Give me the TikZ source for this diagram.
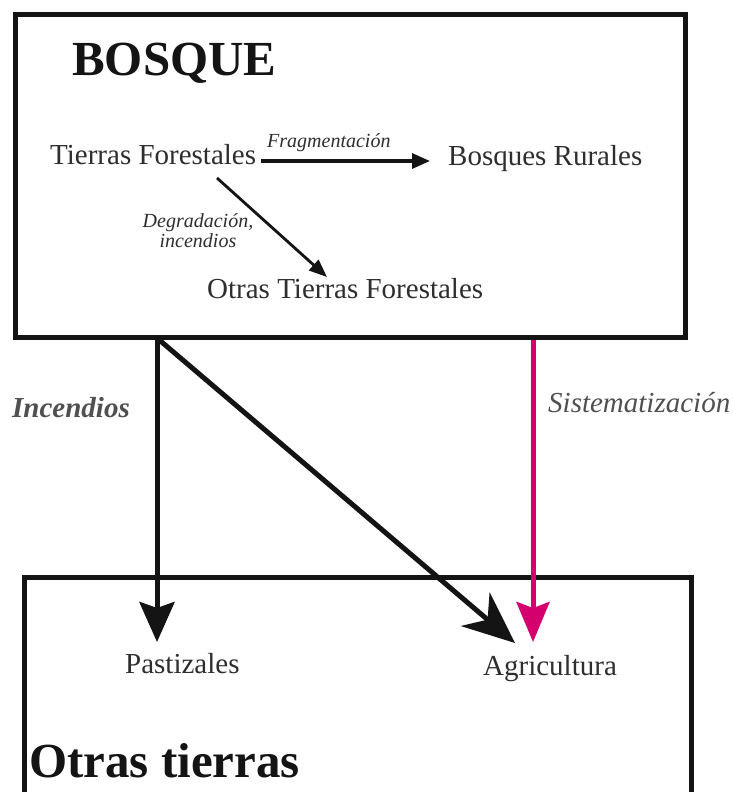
\documentclass[tikz,border=0pt]{standalone}
\usepackage{fontspec}
\setmainfont{Liberation Serif}
\usetikzlibrary{arrows.meta,calc}
\definecolor{txt}{HTML}{2E2E2E}
\definecolor{lbl}{HTML}{505050}
\definecolor{mag}{HTML}{D4006E}
\definecolor{ink}{HTML}{141414}
\tikzset{
  frame/.style={draw=ink, line width=5pt, rectangle, inner sep=0pt, outer sep=0pt, anchor=north west},
  title/.style={anchor=base west, inner sep=0pt, text=ink, font=\fontsize{49}{55}\selectfont\bfseries},
  item/.style={anchor=base west, inner sep=0pt, text=txt, font=\fontsize{29}{33}\selectfont},
  small/.style={inner sep=0pt, text=txt, font=\fontsize{20}{20}\selectfont\itshape},
  side/.style={anchor=base west, inner sep=0pt, text=lbl, font=\fontsize{29}{33}\selectfont\itshape},
  thin/.style={draw=ink, line width=3.2pt, -{Triangle[length=18pt,width=15pt]}},
  bigv/.style={draw=ink, line width=5pt, -{Stealth[length=40pt,width=35pt,inset=6pt]}},
  bigd/.style={draw=ink, line width=5pt, -{Stealth[length=52pt,width=44pt,inset=16pt]}},
  magv/.style={draw=mag, line width=5pt, -{Stealth[length=40pt,width=33pt,inset=6pt]}}
}
\begin{document}
\begin{tikzpicture}[x=1pt,y=-1pt]
\useasboundingbox (0,0) rectangle (733,792);
\clip (0,0) rectangle (733,792);
\fill[white] (0,0) rectangle (733,792);
% boxes
\node[frame, minimum width=670pt, minimum height=322.5pt] (bosque) at (15,14.5) {};
\node[frame, minimum width=667pt, minimum height=230pt] (otras) at (24,577) {};
% texts
\node[title] (tbosque) at (72,75) {BOSQUE};
\node[item] (tf) at (50,164) {Tierras Forestales};
\node[item] (br) at (448,165) {Bosques Rurales};
\node[item] (otf) at (207,298) {Otras Tierras Forestales};
\node[small, anchor=base west] (frag) at (267,147) {Fragmentación};
\node[small, anchor=base, align=center] (degr) at (198,247) {Degradación,\\[-0.5pt]incendios};
\node[side, font=\fontsize{29}{33}\selectfont\bfseries\itshape] (inc) at (12,417) {Incendios};
\node[side] (sist) at (548,412) {Sistematización};
\node[item] (past) at (125,673) {Pastizales};
\node[item] (agri) at (483,675) {Agricultura};
\node[title] (totras) at (29,777) {Otras tierras};
% inner connectors
\draw[thin] ($(tf.base east)+(5,-3)$) -- ($(br.base west)+(-18,-4)$);
\draw[thin, line width=2.8pt, -{Triangle[length=18pt,width=14pt]}] ($(tf.base west)+(167,14)$) -- ($(otf.base west)+(120,-21)$);
% outer connectors
\draw[bigv] ($(bosque.south west)+(142,0)$) -- ($(otras.north west)+(133,65)$);
\draw[bigd] ($(bosque.south west)+(142,1)$) -- ($(otras.north west)+(491,66)$);
\draw[magv] ($(bosque.south west)+(518,3)$) -- ($(otras.north west)+(509,65)$);
\end{tikzpicture}
\end{document}
